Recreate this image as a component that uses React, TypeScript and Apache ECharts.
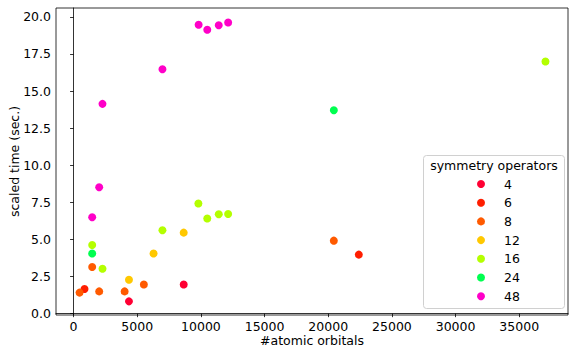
import React, { useEffect, useRef } from "react";
import * as echarts from "echarts";

const groups = ["4", "6", "8", "12", "16", "24", "48"];
const colors = ["#ff0033", "#ff1e00", "#ff5a00", "#ffc800", "#b4ff00", "#00ff50", "#ff00c8"];

const ops4: number[][] = [[4350, 0.83], [8650, 1.96]];
const ops6: number[][] = [[860, 1.66], [22400, 3.98]];
const ops8: number[][] = [[470, 1.42], [1460, 3.15], [2010, 1.5], [4010, 1.5], [5520, 1.96], [20440, 4.92]];
const ops12: number[][] = [[4350, 2.29], [6280, 4.05], [8650, 5.46]];
const ops16: number[][] = [[1460, 4.63], [2270, 3.03], [6980, 5.62], [9800, 7.42], [10500, 6.41], [11400, 6.7], [12140, 6.72], [37060, 16.99]];
const ops24: number[][] = [[1460, 4.05], [20440, 13.71]];
const ops48: number[][] = [[1460, 6.5], [2010, 8.52], [2270, 14.14], [6980, 16.47], [9820, 19.47], [10500, 19.13], [11400, 19.44], [12140, 19.62]];

const seriesData = [ops4, ops6, ops8, ops12, ops16, ops24, ops48];

const xTicks = [0, 5000, 10000, 15000, 20000, 25000, 30000, 35000];
const yTicks = [0, 2.5, 5, 7.5, 10, 12.5, 15, 17.5, 20];

const FONT = "DejaVu Sans";

export default function App() {
  const ref = useRef<HTMLDivElement>(null);
  useEffect(() => {
    if (!ref.current) return;
    const chart = echarts.init(ref.current, null, { renderer: "svg" });
    chart.setOption({
      animation: false,
      textStyle: { fontFamily: FONT, color: "#000" },
      grid: {
        left: 56, top: 8, right: 1, bottom: 32,
        containLabel: false,
        outerBoundsMode: "none",
        show: true, borderColor: "#000", borderWidth: 0.8, backgroundColor: "transparent",
      },
      xAxis: {
        type: "value",
        min: -1380,
        max: 38830,
        name: "#atomic orbitals",
        nameLocation: "middle",
        nameGap: 19,
        nameMoveOverlap: false,
        nameTextStyle: { fontSize: 12.5, color: "#000", fontFamily: FONT, verticalAlign: "top" },
        splitLine: { show: false },
        axisLine: { show: true, lineStyle: { color: "#000", width: 0.8 } },
        axisTick: { show: true, length: 3.5, customValues: xTicks, lineStyle: { color: "#000", width: 0.8 } },
        axisLabel: {
          customValues: xTicks, fontSize: 12.5, color: "#000", fontFamily: FONT, margin: 5,
          formatter: (v: number) => String(v),
        },
      },
      yAxis: {
        type: "value",
        min: -0.09,
        max: 20.6,
        name: "scaled time (sec.)",
        nameLocation: "middle",
        nameGap: 35,
        nameMoveOverlap: false,
        nameTextStyle: { fontSize: 12.5, color: "#000", fontFamily: FONT },
        splitLine: { show: false },
        axisLine: { show: true, lineStyle: { color: "#000", width: 0.8 } },
        axisTick: { show: true, length: 3.5, customValues: yTicks, lineStyle: { color: "#000", width: 0.8 } },
        axisLabel: {
          customValues: yTicks, fontSize: 12.5, color: "#000", fontFamily: FONT, margin: 5,
          formatter: (v: number) => v.toFixed(1),
        },
      },
      legend: {
        orient: "vertical",
        left: 477,
        top: 177,
        padding: 0,
        itemGap: 4.7,
        itemWidth: 8,
        itemHeight: 8,
        icon: "circle",
        data: groups,
        textStyle: { fontSize: 12.5, color: "#000", fontFamily: FONT, lineHeight: 14, padding: [0, 0, 0, 14] },
      },
      graphic: [
        {
          type: "rect",
          z: 3,
          shape: { x: 423.5, y: 155.5, width: 141, height: 153, r: 3 },
          style: { fill: "rgba(255,255,255,0.8)", stroke: "#d0d0d0", lineWidth: 1 },
        },
        {
          type: "text",
          z: 4,
          x: 494,
          y: 165,
          style: {
            text: "symmetry operators", fontSize: 12.5, fontFamily: FONT, fill: "#000",
            align: "center", verticalAlign: "middle",
          },
        },
      ],
      series: groups.map((g, i) => ({
        name: g,
        type: "scatter",
        data: seriesData[i],
        symbol: "circle",
        symbolSize: 8,
        itemStyle: { color: colors[i], opacity: 1 },
      })),
    });
    return () => chart.dispose();
  }, []);
  return <div ref={ref} style={{ width: 569, height: 347, position: "absolute", left: 0, top: 0 }} />;
}
